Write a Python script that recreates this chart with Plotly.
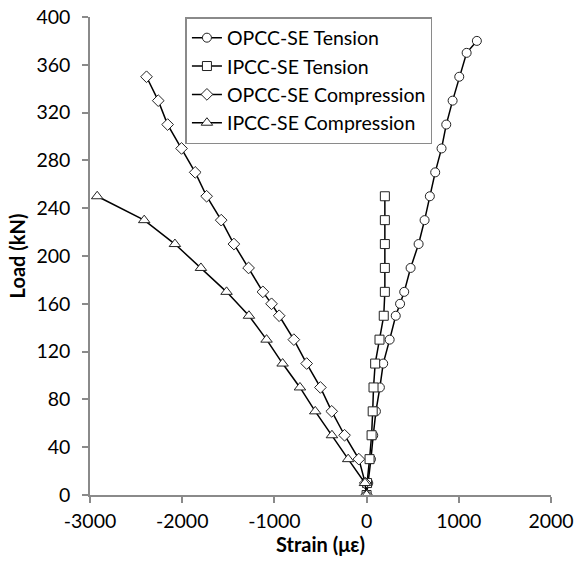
import plotly.graph_objects as go

# OPCC-SE Tension (circles)
opcc_t_load = [0, 10, 30, 50, 70, 90, 110, 130, 150, 160, 170, 190, 210, 230, 250, 270, 290, 310, 330, 350, 370, 380]
opcc_t_strain = [0, 18, 47, 72, 101, 144, 180, 250, 316, 363, 408, 477, 564, 629, 686, 744, 813, 864, 933, 1005, 1085, 1196]

# IPCC-SE Tension (squares)
ipcc_t_load = [0, 10, 30, 50, 70, 90, 110, 130, 150, 170, 190, 210, 230, 250]
ipcc_t_strain = [0, 5, 32, 54, 66, 75, 93, 140, 186, 198, 198, 198, 198, 198]

# OPCC-SE Compression (diamonds)
opcc_c_load = [0, 10, 30, 50, 70, 90, 110, 130, 150, 160, 170, 190, 210, 230, 250, 270, 290, 310, 330, 350]
opcc_c_strain = [0, -15, -84, -239, -378, -501, -650, -789, -948, -1031, -1125, -1280, -1439, -1577, -1735, -1859, -2007, -2158, -2260, -2387]

# IPCC-SE Compression (triangles)
ipcc_c_load = [0, 10, 30, 50, 70, 90, 110, 130, 150, 170, 190, 210, 230, 250]
ipcc_c_strain = [0, -18, -200, -376, -557, -723, -911, -1085, -1276, -1519, -1797, -2079, -2412, -2922]

x_ticks = [-3000, -2000, -1000, 0, 1000, 2000]
x_tick_labels = ["-3000", "-2000", "-1000", "0", "1000", "2000"]
y_ticks = [0, 40, 80, 120, 160, 200, 240, 280, 320, 360, 400]

FONT = "Lato"

def trace(x, y, name, symbol, size):
    return go.Scatter(
        x=x, y=y, name=name, mode="lines+markers",
        line=dict(color="black", width=1.5),
        marker=dict(symbol=symbol, size=size, color="white",
                    line=dict(color="#222222", width=1)),
    )

fig = go.Figure()
fig.add_trace(trace(opcc_t_strain, opcc_t_load, "OPCC-SE Tension", "circle", 9))
fig.add_trace(trace(ipcc_t_strain, ipcc_t_load, "IPCC-SE Tension", "square", 9))
fig.add_trace(trace(opcc_c_strain, opcc_c_load, "OPCC-SE Compression", "diamond", 9))
fig.add_trace(trace(ipcc_c_strain, ipcc_c_load, "IPCC-SE Compression", "triangle-up", 10))

axis_common = dict(
    showgrid=False, zeroline=False, showline=True, linecolor="#8a8a8a", linewidth=1.5,
    ticks="outside", ticklen=6, tickcolor="#8a8a8a", tickwidth=1.5,
    tickfont=dict(family=FONT, size=19.5, color="black"),
    automargin=False,
)

fig.update_layout(
    width=575, height=568,
    margin=dict(l=90, r=24, t=17, b=73),
    paper_bgcolor="white", plot_bgcolor="white",
    font=dict(family=FONT, color="black"),
    xaxis=dict(range=[-3000, 2000], tickvals=x_ticks, ticktext=x_tick_labels,
               ticklabelstandoff=2,
               title=dict(text="<b>Strain (με)</b>", font=dict(family=FONT, size=20), standoff=1),
               **axis_common),
    yaxis=dict(range=[0, 400], tickvals=y_ticks,
               ticklabelstandoff=8,
               title=dict(text="<b>Load (kN)</b>", font=dict(family=FONT, size=20), standoff=5),
               **axis_common),
    legend=dict(x=0.207, y=1.0, xanchor="left", yanchor="top",
                bgcolor="white", bordercolor="#8a8a8a", borderwidth=1.5,
                font=dict(family=FONT, size=19.5), tracegroupgap=0,
                itemwidth=30),
    showlegend=True,
)

fig.write_html("out.html", config={"displayModeBar": False},
               post_script="document.body.style.margin='0px';")
